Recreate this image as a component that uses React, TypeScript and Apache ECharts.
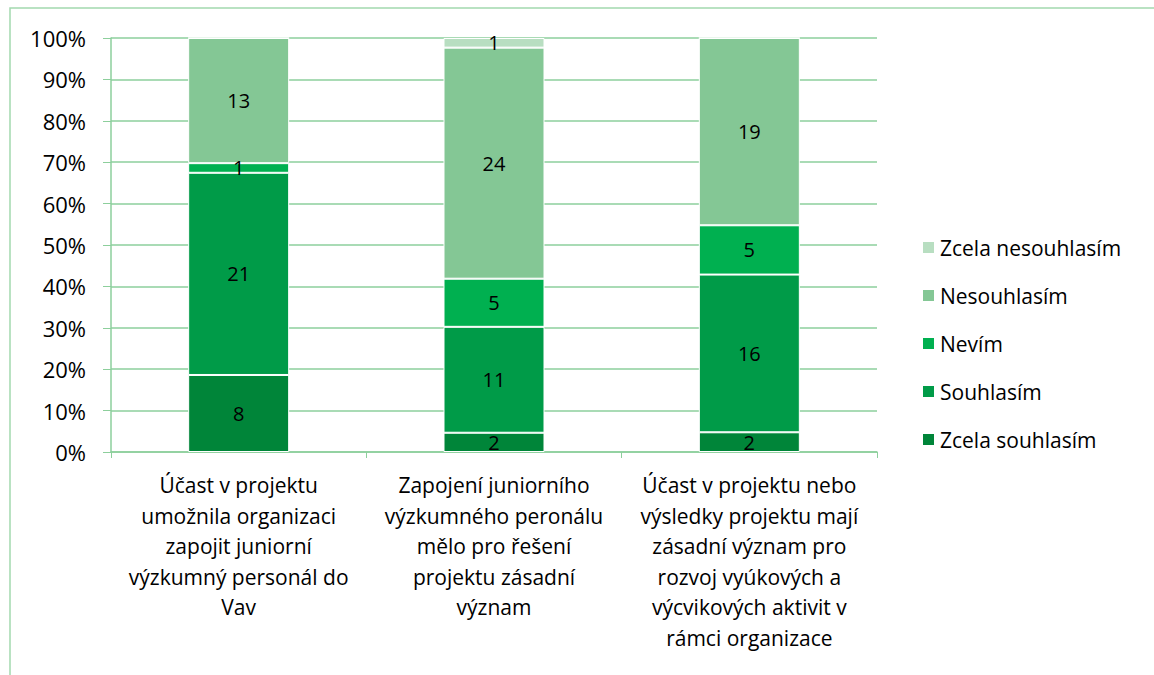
import React, { useEffect, useRef } from "react";
import * as echarts from "echarts";

const categories = [
  "Účast v projektu\numožnila organizaci\nzapojit juniorní\nvýzkumný personál do\nVav",
  "Zapojení juniorního\nvýzkumného peronálu\nmělo pro řešení\nprojektu zásadní\nvýznam",
  "Účast v projektu nebo\nvýsledky projektu mají\nzásadní význam pro\nrozvoj vyúkových a\nvýcvikových aktivit v\nrámci organizace",
];

const seriesNames = ["Zcela souhlasím", "Souhlasím", "Nevím", "Nesouhlasím", "Zcela nesouhlasím"];
const zcelaSouhlasim = [8, 2, 2];
const souhlasim = [21, 11, 16];
const nevim = [1, 5, 5];
const nesouhlasim = [13, 24, 19];
const zcelaNesouhlasim = [0, 1, 0];
const yTicks = [0, 10, 20, 30, 40, 50, 60, 70, 80, 90, 100];

const colors = ["#008539", "#009B48", "#00B050", "#84C795", "#B8DEC1"];
const FONT = "Open Sans";

export default function App() {
  const ref = useRef<HTMLDivElement>(null);
  useEffect(() => {
    if (!ref.current) return;
    const chart = echarts.init(ref.current, null, { renderer: "svg" });
    const raw = [zcelaSouhlasim, souhlasim, nevim, nesouhlasim, zcelaNesouhlasim];
    const totals = categories.map((_, i) => raw.reduce((s, arr) => s + arr[i], 0));
    const green = "#8DCF9C";
    chart.setOption({
      animation: false,
      textStyle: { fontFamily: FONT },
      graphic: [
        {
          type: "rect",
          shape: { x: 10, y: 8, width: 1200, height: 700 },
          style: { fill: "none", stroke: "#A3D9AF", lineWidth: 1.5 },
          silent: true,
        },
      ],
      grid: { left: 111, right: 277, top: 38, bottom: 223, containLabel: false },
      legend: {
        orient: "vertical",
        left: 916,
        top: 232,
        itemWidth: 13,
        itemHeight: 13,
        itemGap: 27,
        icon: "rect",
        data: [...seriesNames].reverse(),
        textStyle: { fontFamily: FONT, fontSize: 21, color: "#000" },
      },
      xAxis: {
        type: "category",
        data: categories,
        axisLine: { lineStyle: { color: green, width: 1.5 } },
        axisTick: { show: true, length: 6, alignWithLabel: false, lineStyle: { color: green } },
        axisLabel: {
          interval: 0,
          fontFamily: FONT,
          fontSize: 21,
          color: "#000",
          lineHeight: 30.5,
          margin: 18,
        },
      },
      yAxis: {
        type: "value",
        min: 0,
        max: 100,
        interval: 10,
        axisLine: { show: true, lineStyle: { color: green, width: 1.5 } },
        axisTick: { show: true, length: 8, lineStyle: { color: green } },
        splitLine: { lineStyle: { color: green, width: 1.5 } },
        axisLabel: {
          formatter: (v: number) => (yTicks.includes(v) ? v + "%" : ""),
          fontFamily: FONT,
          fontSize: 22,
          color: "#000",
          margin: 25,
        },
      },
      series: raw.map((arr, si) => ({
        name: seriesNames[si],
        type: "bar",
        stack: "total",
        barWidth: 101,
        itemStyle: { color: colors[si], borderColor: "#fff", borderWidth: 1 },
        label: {
          show: true,
          position: "inside",
          fontFamily: FONT,
          fontSize: 20,
          color: "#000",
          formatter: (p: any) => (arr[p.dataIndex] ? String(arr[p.dataIndex]) : ""),
        },
        data: arr.map((v, i) => (v / totals[i]) * 100),
      })),
    });
    return () => chart.dispose();
  }, []);
  return (
    <div
      ref={ref}
      style={{ position: "absolute", left: 0, top: 0, width: 1154, height: 675, background: "#fff" }}
    />
  );
}
